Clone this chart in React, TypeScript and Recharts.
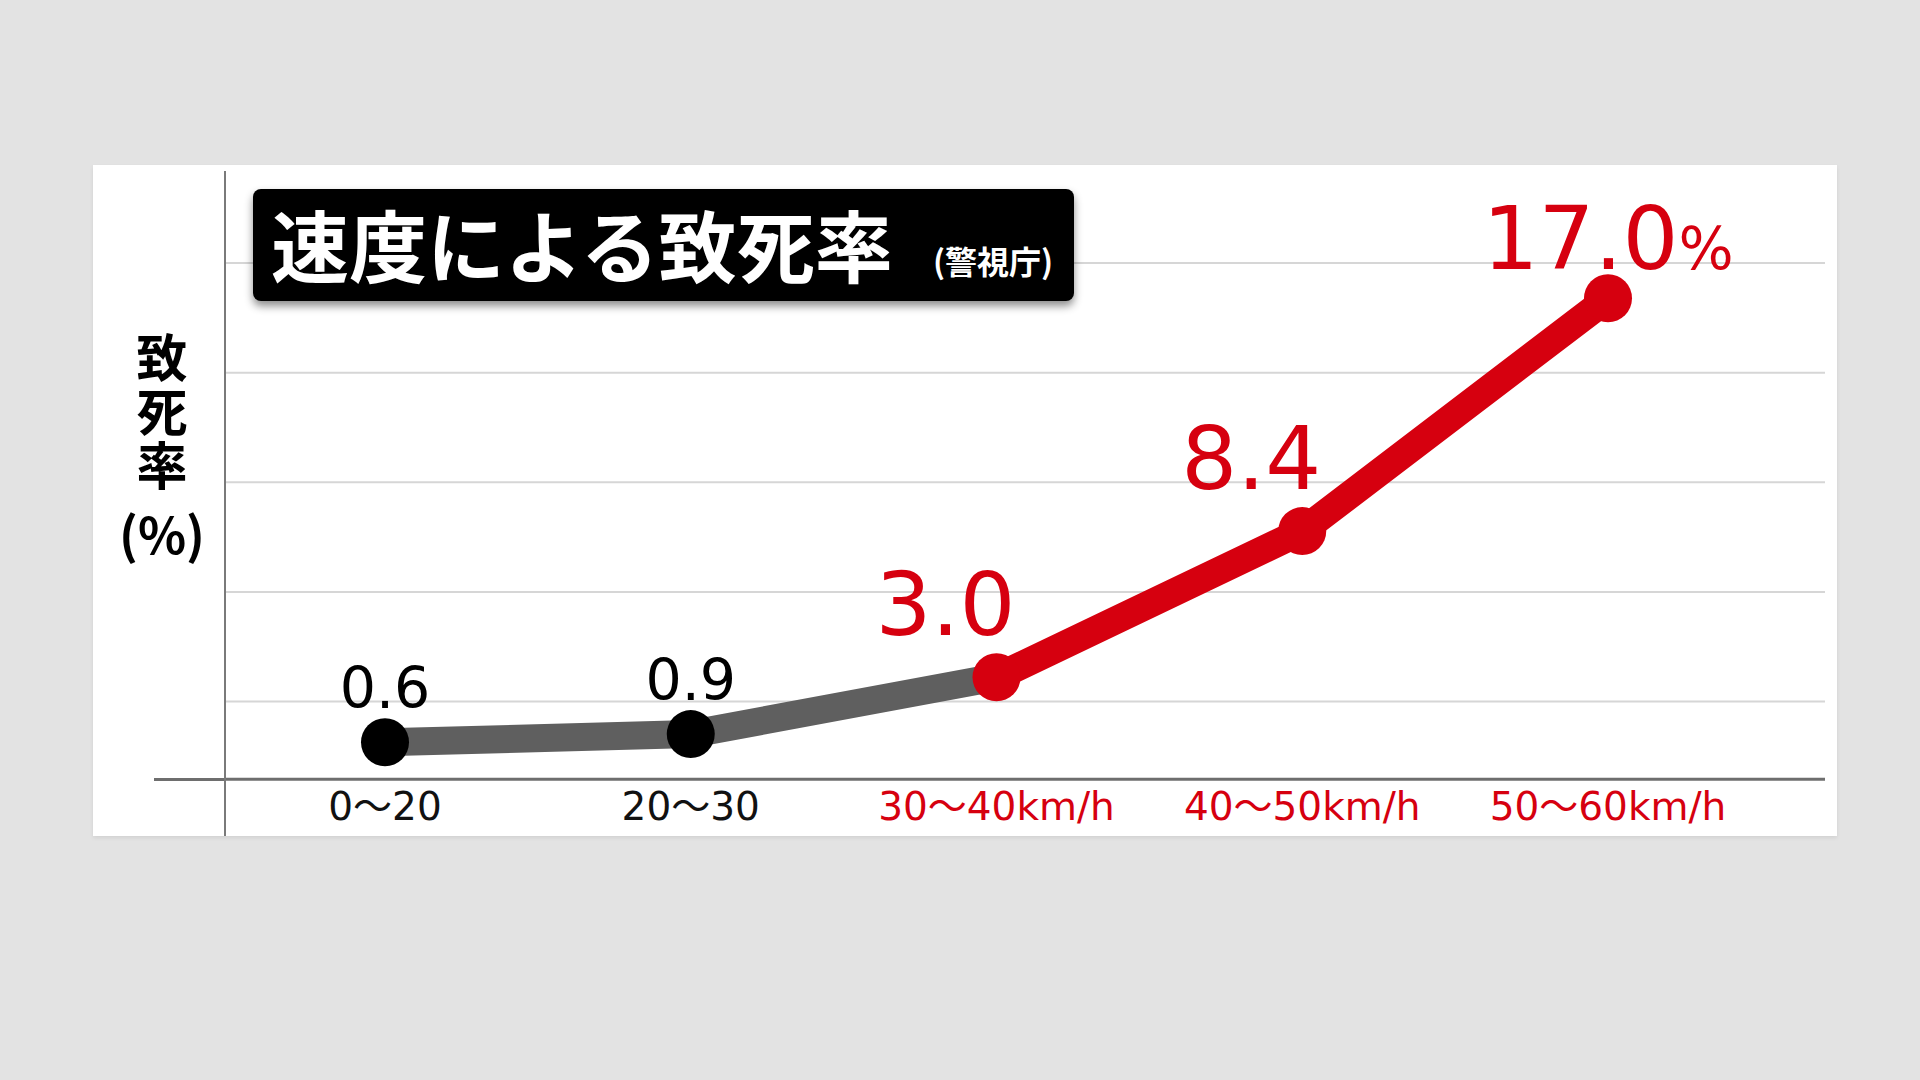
import { LineChart, Line, XAxis, YAxis, CartesianGrid, LabelList } from "recharts";

// 速度帯ごとの致死率（警視庁）
const speedBands = ["0～20", "20～30", "30～40km/h", "40～50km/h", "50～60km/h"];
const lowSpeedRate = [0.6, 0.9, 3.0, null, null];
const highSpeedRate = [null, null, 3.0, 8.4, 17.0];
const gridTicks = [2.1, 6.15, 10.2, 14.25, 18.3];
const yDomain = [-0.77, 21.7];

const chartTitle = "速度による致死率";
const chartSource = "(警視庁)";
const yAxisName = "致死率";
const yAxisUnit = "(%)";

const RED = "#d6000f";
const GRAY_LINE = "#5f5f5f";
const NUM_FONT = "'DejaVu Sans', 'Noto Sans CJK JP', sans-serif";
const JP_FONT = "'Noto Sans CJK JP', sans-serif";

const data = speedBands.map((band, i) => ({
  band,
  low: lowSpeedRate[i],
  high: highSpeedRate[i],
}));

function SpeedTick(props: any) {
  const { x, y, payload } = props;
  const i = speedBands.indexOf(payload.value);
  const isHigh = highSpeedRate[i] != null;
  return (
    <text
      x={x}
      y={y + 41}
      textAnchor="middle"
      fontSize={39}
      fontFamily={NUM_FONT}
      fill={isHigh ? RED : "#111"}
    >
      {payload.value}
    </text>
  );
}

function LowDot(props: any) {
  const { cx, cy, index } = props;
  if (highSpeedRate[index] != null || cx == null || cy == null) {
    return <g key={`ld-${index}`} />;
  }
  return <circle key={`ld-${index}`} cx={cx} cy={cy} r={24} fill="#000" />;
}

function HighDot(props: any) {
  const { cx, cy, index } = props;
  if (cx == null || cy == null || highSpeedRate[index] == null) {
    return <g key={`hd-${index}`} />;
  }
  return <circle key={`hd-${index}`} cx={cx} cy={cy} r={24} fill={RED} />;
}

function LowLabel(props: any) {
  const { x, y, index, value } = props;
  if (value == null || highSpeedRate[index] != null) return null;
  return (
    <text x={x} y={y - 34} textAnchor="middle" fontSize={57} fontFamily={NUM_FONT} fill="#000">
      {Number(value).toFixed(1)}
    </text>
  );
}

function HighLabel(props: any) {
  const { x, y, index, value } = props;
  if (value == null) return null;
  const last = index === highSpeedRate.length - 1;
  if (last) {
    return (
      <text x={x} y={y - 29} textAnchor="middle" fontSize={88} fontFamily={NUM_FONT} fill={RED}>
        {Number(value).toFixed(1)}
        <tspan fontSize={58}>%</tspan>
      </text>
    );
  }
  return (
    <text x={x - 51} y={y - 42} textAnchor="middle" fontSize={88} fontFamily={NUM_FONT} fill={RED}>
      {Number(value).toFixed(1)}
    </text>
  );
}

export default function App() {
  return (
    <div
      style={{
        position: "absolute",
        left: 0,
        top: 0,
        width: 1920,
        height: 1080,
        background: "#e3e3e3",
        overflow: "hidden",
      }}
    >
      {/* white panel */}
      <div
        style={{
          position: "absolute",
          left: 93,
          top: 165,
          width: 1744,
          height: 671,
          background: "#fff",
          boxShadow: "0 2px 4px rgba(0,0,0,0.08)",
        }}
      />

      <div style={{ position: "absolute", left: 0, top: 0 }}>
        <LineChart
          width={1920}
          height={1080}
          data={data}
          margin={{ top: 171, right: 95, bottom: 250.7, left: 225 }}
        >
          <CartesianGrid
            vertical={false}
            horizontalValues={gridTicks}
            stroke="#d6d6d6"
            strokeWidth={2}
          />
          <XAxis
            dataKey="band"
            height={50}
            padding={{ left: 160, right: 217 }}
            tickLine={false}
            tickSize={0}
            tickMargin={0}
            axisLine={{ stroke: "#6e6e6e", strokeWidth: 3 }}
            tick={<SpeedTick />}
            interval={0}
          />
          <YAxis hide type="number" domain={yDomain} ticks={gridTicks} allowDataOverflow />
          <Line
            dataKey="low"
            stroke={GRAY_LINE}
            strokeWidth={28}
            dot={LowDot}
            activeDot={false}
            isAnimationActive={false}
          >
            <LabelList dataKey="low" content={LowLabel} />
          </Line>
          <Line
            dataKey="high"
            stroke={RED}
            strokeWidth={28}
            dot={HighDot}
            activeDot={false}
            isAnimationActive={false}
          >
            <LabelList dataKey="high" content={HighLabel} />
          </Line>
        </LineChart>
      </div>

      {/* x axis stub left of the y axis */}
      <div
        style={{
          position: "absolute",
          left: 154,
          top: 778,
          width: 71,
          height: 3,
          background: "#6e6e6e",
        }}
      />
      {/* y axis line */}
      <div
        style={{
          position: "absolute",
          left: 224,
          top: 171,
          width: 2,
          height: 665,
          background: "#7a7a7a",
        }}
      />

      {/* y axis label */}
      <div
        style={{
          position: "absolute",
          left: 112,
          top: 332,
          width: 100,
          writingMode: "vertical-rl",
          fontFamily: JP_FONT,
          fontWeight: 700,
          fontSize: 51,
          lineHeight: "100px",
          letterSpacing: 3,
          color: "#000",
        }}
      >
        {yAxisName}
      </div>
      <div
        style={{
          position: "absolute",
          left: 112,
          top: 504,
          width: 100,
          textAlign: "center",
          fontFamily: JP_FONT,
          fontWeight: 700,
          fontSize: 50,
          lineHeight: "56px",
          color: "#000",
        }}
      >
        {yAxisUnit}
      </div>

      {/* title box */}
      <div
        style={{
          position: "absolute",
          left: 253,
          top: 189,
          width: 821,
          height: 112,
          background: "#000",
          borderRadius: 8,
          boxShadow: "0 5px 8px rgba(0,0,0,0.45)",
        }}
      >
        <span
          style={{
            position: "absolute",
            left: 18,
            top: 15,
            fontFamily: JP_FONT,
            fontWeight: 700,
            fontSize: 78,
            lineHeight: "78px",
            color: "#fff",
            whiteSpace: "nowrap",
          }}
        >
          {chartTitle}
        </span>
        <span
          style={{
            position: "absolute",
            left: 680,
            top: 55,
            fontFamily: JP_FONT,
            fontWeight: 700,
            fontSize: 32,
            lineHeight: "32px",
            color: "#fff",
            whiteSpace: "nowrap",
          }}
        >
          {chartSource}
        </span>
      </div>
    </div>
  );
}
